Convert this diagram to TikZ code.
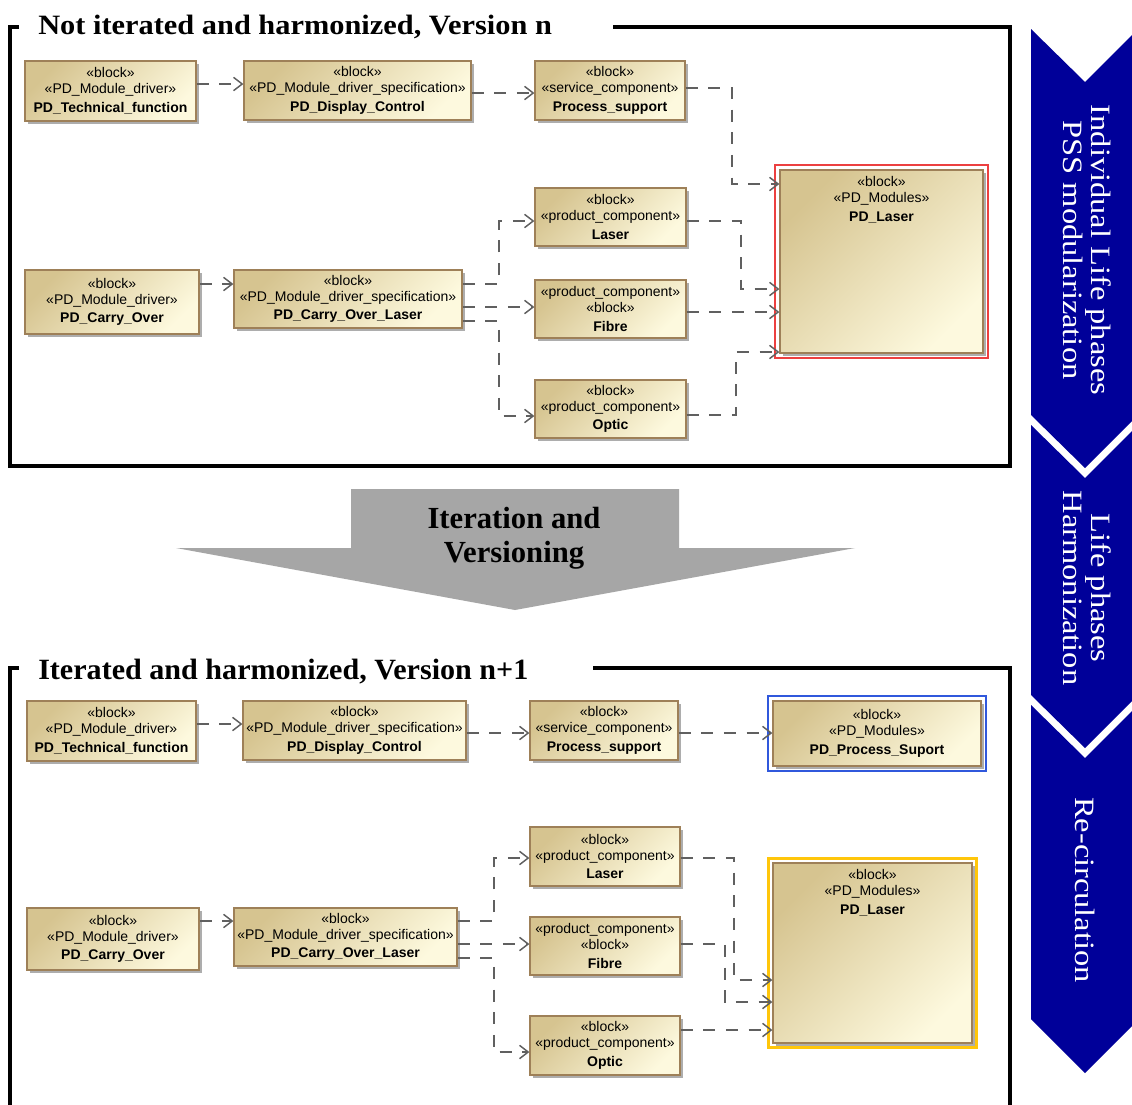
\documentclass[tikz,border=0pt]{standalone}
\usepackage{fontspec}
\setmainfont{Liberation Serif}
\setsansfont{Liberation Sans}
\usetikzlibrary{arrows.meta,shadows,calc}

\definecolor{blocktan}{RGB}{214,196,144}
\definecolor{blockcream}{RGB}{253,249,222}
\definecolor{blockedge}{RGB}{158,128,88}
\definecolor{linkgray}{RGB}{96,96,96}
\definecolor{phaseblue}{RGB}{0,0,153}
\definecolor{arrowgray}{RGB}{166,166,166}
\definecolor{markred}{RGB}{236,64,64}
\definecolor{markblue}{RGB}{48,88,220}
\definecolor{markgold}{RGB}{255,198,10}

% block: name, centre x, centre y, width, height, text (sizes in px)
\newcommand\umlblock[6]{%
  \node[umlbox, minimum width=#4*0.75pt, minimum height=#5*0.75pt] (#1) at (#2,#3) {#6};}
% phase text stretched along its reading direction
\newcommand\wideline[1]{\scalebox{1.16}[1]{#1}}

\tikzset{
  boxtext/.style={font=\sffamily\fontsize{10.5}{12}\selectfont, align=center},
  umlbox/.style={draw=blockedge, line width=0.9pt,
    left color=blocktan, right color=blockcream, shading angle=45,
    drop shadow={shadow xshift=2.2pt, shadow yshift=-2.2pt, fill=black!32, opacity=1},
    inner sep=0pt, boxtext},
  link/.style={draw=linkgray, line width=1.1pt, dash pattern=on 9pt off 8pt,
    -{Straight Barb[length=6.5pt,width=10pt,line width=1.1pt]}},
  frame/.style={line width=2.4pt, black},
  title/.style={anchor=base west, inner sep=0pt, font=\bfseries\fontsize{21}{24}\selectfont},
  phase/.style={white, font=\fontsize{21}{21}\selectfont, align=center, rotate=-90, inner sep=0pt},
  chevron/.style={fill=phaseblue},
}

\begin{document}
\begin{tikzpicture}[x=0.75pt,y=-0.75pt]
\path[use as bounding box] (0,0) rectangle (1132,1104);
\clip (0,0) rectangle (1132,1104);
\fill[white] (0,0) rectangle (1132,1104);

% ---------- frames and titles ----------
\draw[frame] (19,27) -| (10,466) -| (1010,27) -- (613,27);
\node[title] (t1) at (38,34) {\scalebox{1.085}[1]{Not iterated and harmonized, Version n}};
\draw[frame] (19,668) -| (10,1110);
\draw[frame] (593,668) -| (1010,1110);
\node[title] (t2) at (38,679) {\scalebox{1.075}[1.05]{Iterated and harmonized, Version n+1}};

% ---------- version n ----------
\umlblock{A1}{110.5}{91}{171}{60}{«block»\\«PD\_Module\_driver»\\[2pt]\textbf{PD\_Technical\_function}}
\umlblock{A2}{357.5}{90.5}{227}{59}{«block»\\«PD\_Module\_driver\_specification»\\[2pt]\textbf{PD\_Display\_Control}}
\umlblock{A3}{610}{90.5}{150}{59}{«block»\\«service\_component»\\[2pt]\textbf{Process\_support}}
\node[umlbox, minimum width=203*0.75pt, minimum height=183*0.75pt,
  label={[anchor=north, yshift=-2pt, boxtext]north:{«block»\\«PD\_Modules»\\[2pt]\textbf{PD\_Laser}}}]
  (A4) at (881.5,261.5) {};
\draw[markred, line width=1.6pt] ($(A4.north west)+(-4,-4)$) rectangle ($(A4.south east)+(4,4)$);

\umlblock{B1}{112}{302}{174}{64}{«block»\\«PD\_Module\_driver»\\[2pt]\textbf{PD\_Carry\_Over}}
\umlblock{B2}{348}{299}{228}{58}{«block»\\«PD\_Module\_driver\_specification»\\[2pt]\textbf{PD\_Carry\_Over\_Laser}}
\umlblock{L1}{610.5}{217}{151}{58}{«block»\\«product\_component»\\[2pt]\textbf{Laser}}
\umlblock{F1}{610.5}{309}{151}{58}{«product\_component»\\«block»\\[2pt]\textbf{Fibre}}
\umlblock{O1}{610.5}{409}{151}{58}{«block»\\«product\_component»\\[2pt]\textbf{Optic}}

\draw[link] (A1.east |- 0,84) -- (A2.west |- 0,84);
\draw[link] (A2.east |- 0,93) -- (A3.west |- 0,93);
\draw[link] (A3.east |- 0,88) -| (732,184) -- (A4.west |- 0,184);
\draw[link] (B1.east |- 0,284) -- (B2.west |- 0,284);
\draw[link] (B2.east |- 0,284) -| (499,221) -- (L1.west |- 0,221);
\draw[link] (B2.east |- 0,307) -- (F1.west |- 0,307);
\draw[link] (B2.east |- 0,321) -| (499,416) -- (O1.west |- 0,416);
\draw[link] (L1.east |- 0,221) -| (741,289) -- (A4.west |- 0,289);
\draw[link] (F1.east |- 0,312) -- (A4.west |- 0,312);
\draw[link] (O1.east |- 0,415) -| (736,352) -- (A4.west |- 0,352);

% ---------- iteration arrow ----------
\fill[arrowgray] (351,489) -- (679,489) -- (679,548) -- (855,548) -- (515,610)
  -- (176,548) -- (351,548) -- cycle;
\node[font=\bfseries\fontsize{23}{25.5}\selectfont, align=center] (iter) at (514,538)
  {Iteration and\\Versioning};

% ---------- version n+1 ----------
\umlblock{C1}{111.5}{731}{169}{60}{«block»\\«PD\_Module\_driver»\\[2pt]\textbf{PD\_Technical\_function}}
\umlblock{C2}{354.5}{730.5}{223}{59}{«block»\\«PD\_Module\_driver\_specification»\\[2pt]\textbf{PD\_Display\_Control}}
\umlblock{C3}{604}{730.5}{148}{59}{«block»\\«service\_component»\\[2pt]\textbf{Process\_support}}
\umlblock{C4}{877}{733.5}{208}{65}{«block»\\«PD\_Modules»\\[2pt]\textbf{PD\_Process\_Suport}}
\draw[markblue, line width=1.6pt] ($(C4.north west)+(-4,-4)$) rectangle ($(C4.south east)+(4,4)$);

\umlblock{D1}{113}{939}{172}{62}{«block»\\«PD\_Module\_driver»\\[2pt]\textbf{PD\_Carry\_Over}}
\umlblock{D2}{345.5}{937}{223}{58}{«block»\\«PD\_Module\_driver\_specification»\\[2pt]\textbf{PD\_Carry\_Over\_Laser}}
\umlblock{L2}{605}{856.5}{150}{59}{«block»\\«product\_component»\\[2pt]\textbf{Laser}}
\umlblock{F2}{605}{946}{150}{58}{«product\_component»\\«block»\\[2pt]\textbf{Fibre}}
\umlblock{O2}{605}{1045.5}{150}{59}{«block»\\«product\_component»\\[2pt]\textbf{Optic}}
\node[umlbox, minimum width=199*0.75pt, minimum height=180*0.75pt,
  label={[anchor=north, yshift=-2pt, boxtext]north:{«block»\\«PD\_Modules»\\[2pt]\textbf{PD\_Laser}}}]
  (E) at (872.5,953) {};
\draw[markgold, line width=2.2pt] ($(E.north west)+(-4,-4)$) rectangle ($(E.south east)+(4,4)$);

\draw[link] (C1.east |- 0,724) -- (C2.west |- 0,724);
\draw[link] (C2.east |- 0,733) -- (C3.west |- 0,733);
\draw[link] (C3.east |- 0,733) -- (C4.west |- 0,733);
\draw[link] (D1.east |- 0,921) -- (D2.west |- 0,921);
\draw[link] (D2.east |- 0,921) -| (494,858) -- (L2.west |- 0,858);
\draw[link] (D2.east |- 0,944) -- (F2.west |- 0,944);
\draw[link] (D2.east |- 0,958) -| (494,1052) -- (O2.west |- 0,1052);
\draw[link] (L2.east |- 0,858) -| (734,980) -- (E.west |- 0,980);
\draw[link] (F2.east |- 0,944) -| (725,1002) -- (E.west |- 0,1002);
\draw[link] (O2.east |- 0,1030) -- (E.west |- 0,1030);

% ---------- phase chevrons ----------
\fill[chevron] (1031,29) -- (1085,82) -- (1132,35) -- (1132,421) -- (1085,468) -- (1031,415) -- cycle;
\fill[chevron] (1031,425) -- (1085,478) -- (1132,431) -- (1132,701) -- (1085,748) -- (1031,695) -- cycle;
\fill[chevron] (1031,705) -- (1085,758) -- (1132,711) -- (1132,1026) -- (1085,1073) -- (1031,1019) -- cycle;
\node[phase] (p1) at (1087,250) {\wideline{Individual Life phases}\\\wideline{PSS modularization}};
\node[phase] (p2) at (1087,588) {\wideline{Life phases}\\\wideline{Harmonization}};
\node[phase] (p3) at (1085,890) {\wideline{Re-circulation}};
\end{tikzpicture}
\end{document}
